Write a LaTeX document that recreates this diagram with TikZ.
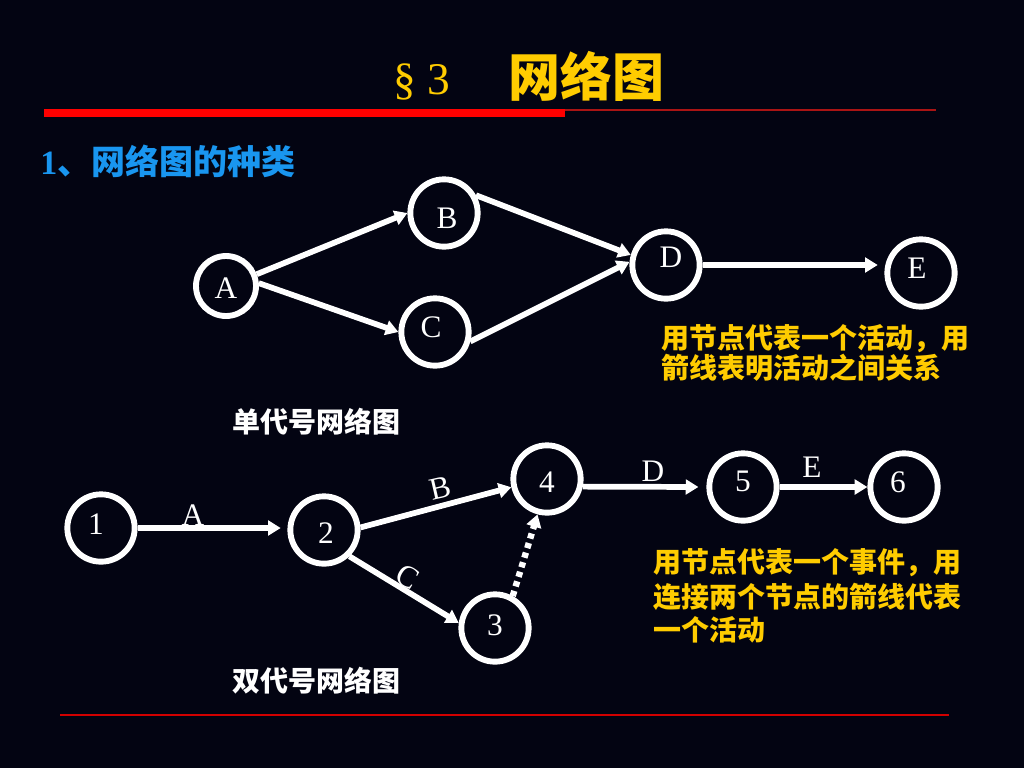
\documentclass[tikz,border=0pt]{standalone}
\usepackage{fontspec}
\setmainfont{Liberation Serif}
\newfontfamily\cjk{Noto Sans CJK SC}
\usetikzlibrary{arrows.meta}
\definecolor{bg}{RGB}{3,4,18}
\definecolor{ttl}{RGB}{255,204,0}
\definecolor{hd}{RGB}{25,150,240}
\definecolor{barred}{RGB}{255,0,0}
\definecolor{thinred}{RGB}{170,20,20}
\definecolor{footred}{RGB}{210,0,0}
\begin{document}
\begin{tikzpicture}[x=0.75pt,y=-0.75pt,
  circ/.style={circle,draw=white,line width=4.4pt,minimum size=50.5pt,inner sep=0pt},
  lbl/.style={text=white,font=\fontsize{23.5}{27}\selectfont,inner sep=0pt},
  arr/.style={draw=white,line width=4.3pt,-{Triangle[length=9.5pt,width=11pt]}},
  dotarr/.style={draw=white,line width=4.8pt,dash pattern=on 4pt off 3.5pt,-{Triangle[length=9.5pt,width=11pt]}},
  note/.style={text=ttl,font=\cjk\bfseries\fontsize{21}{24}\selectfont,anchor=base west,inner sep=0pt},
  capt/.style={text=white,font=\cjk\bfseries\fontsize{21}{24}\selectfont,anchor=base west,inner sep=0pt}]

\fill[bg] (0,0) rectangle (1024,768);
\useasboundingbox (0,0) rectangle (1024,768);

% title
\node[anchor=base west,text=ttl,font=\fontsize{34}{40}\selectfont,inner sep=0pt] (sec) at (393,94) {§ 3};
\node[anchor=base west,text=ttl,font=\cjk\bfseries\fontsize{39}{44}\selectfont,inner sep=0pt] (title) at (508,96) {网络图};
\fill[barred] (44,109) rectangle (565,117);
\draw[thinred,line width=1.5pt] (565,110) -- (936,110);

% heading
\node[anchor=base west,text=hd,inner sep=0pt,font=\fontsize{25.5}{30}\selectfont] (head) at (40,174.5) {\textbf{1}{\cjk\bfseries 、网络图的种类}};

% top diagram
\node[circ,minimum size=45pt,label={[lbl,yshift=-1.5pt]center:A}] (A) at (226,286) {};
\node[circ,label={[lbl,xshift=2.25pt,yshift=-3.75pt]center:B}] (B) at (444,213) {};
\node[circ,label={[lbl,xshift=-3pt,yshift=3.75pt]center:C}] (C) at (435,332) {};
\node[circ,label={[lbl,xshift=3.75pt,yshift=6pt]center:D}] (D) at (666,265) {};
\node[circ,label={[lbl,xshift=-3pt,yshift=3.75pt]center:E}] (E) at (921,273) {};

\draw[arr] (A.21) -- (B.180);
\draw[arr] (A.5) -- (C.180);
\draw[arr] (B.29) -- (D.164);
\draw[arr] (C.-15) -- (D.175);
\draw[arr,shorten >=5pt] (D.east) -- (E.west |- D.east);

\node[note] (n1a) at (661,348) {用节点代表一个活动，用};
\node[note] (n1b) at (661,378) {箭线表明活动之间关系};
\node[capt] (cap1) at (232,432) {单代号网络图};

% bottom diagram
\node[circ,label={[lbl,xshift=-3.75pt,yshift=3pt]center:1}] (n1) at (101,528) {};
\node[circ,label={[lbl,xshift=1.5pt,yshift=-2.25pt]center:2}] (n2) at (324,530) {};
\node[circ,label={[lbl,yshift=-2.25pt]center:4}] (n4) at (547,479) {};
\node[circ,label={[lbl,yshift=2.25pt]center:3}] (n3) at (495,628) {};
\node[circ,label={[lbl,yshift=4.5pt]center:5}] (n5) at (743,487) {};
\node[circ,label={[lbl,xshift=-4.5pt,yshift=3.75pt]center:6}] (n6) at (904,487) {};

\node[lbl] (eA) at (193,515) {A};
\node[lbl,rotate=13] (eB) at (440,488) {B};
\node[lbl,rotate=-30] (eC) at (408,577) {C};
\node[lbl] (eD) at (653,471) {D};
\node[lbl] (eE) at (812,467) {E};

\draw[arr,shorten >=5pt] (n1.east) -- (n2.west |- n1.east);
\draw[arr] (n2.4) -- (n4.193);
\draw[arr] (n2.-46) -- (n3.172);
\draw[dotarr] (n3.61) -- (n4.255);
\draw[arr,shorten >=6pt] (n4.-12) -- (n5.west);
\draw[arr] (n5.east) -- (n6.west);

\node[note] (n2a) at (653,572) {用节点代表一个事件，用};
\node[note] (n2b) at (653,607) {连接两个节点的箭线代表};
\node[note] (n2c) at (653,640) {一个活动};
\node[capt] (cap2) at (232,691) {双代号网络图};

\draw[footred,line width=1.5pt] (60,715) -- (949,715);
\end{tikzpicture}
\end{document}
